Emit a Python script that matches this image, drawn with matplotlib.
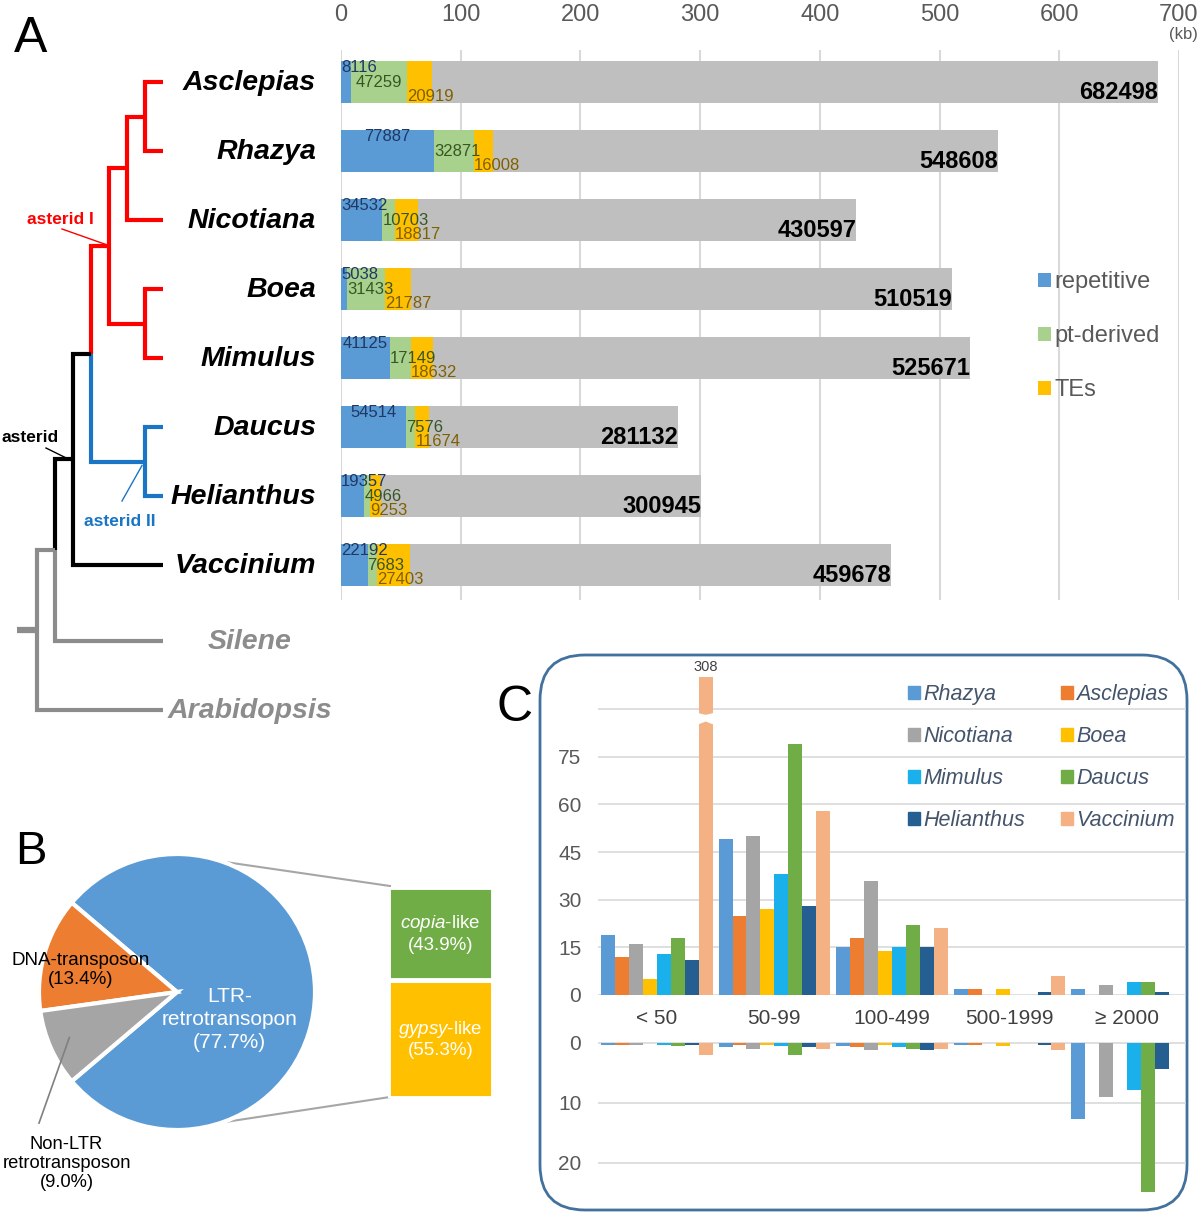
import matplotlib.pyplot as plt
from matplotlib.patches import FancyBboxPatch, Patch, Polygon
import numpy as np

W, H = 1200, 1212

plt.rcParams['font.family'] = ['Liberation Sans', 'DejaVu Sans']
plt.rcParams['mathtext.fontset'] = 'custom'
plt.rcParams['mathtext.rm'] = 'Liberation Sans'
plt.rcParams['mathtext.it'] = 'Liberation Sans:italic'

# ---------------- panel A data (bp) ----------------
species = ['Asclepias', 'Rhazya', 'Nicotiana', 'Boea', 'Mimulus',
           'Daucus', 'Helianthus', 'Vaccinium']
outgroups = ['Silene', 'Arabidopsis']
repetitive = [8116, 77887, 34532, 5038, 41125, 54514, 19357, 22192]
pt_derived = [47259, 32871, 10703, 31433, 17149, 7576, 4966, 7683]
tes = [20919, 16008, 18817, 21787, 18632, 11674, 9253, 27403]
genome = [682498, 548608, 430597, 510519, 525671, 281132, 300945, 459678]

# tree topology, tip rows and branch colours
tip_rows = {'Asclepias': 0, 'Rhazya': 1, 'Nicotiana': 2, 'Boea': 3, 'Mimulus': 4,
            'Daucus': 5, 'Helianthus': 6, 'Vaccinium': 7,
            'Silene': 8.1, 'Arabidopsis': 9.1}
clades = {
    'AR': ['Asclepias', 'Rhazya'],
    'ARN': ['AR', 'Nicotiana'],
    'BM': ['Boea', 'Mimulus'],
    'astI': ['ARN', 'BM'],
    'DH': ['Daucus', 'Helianthus'],
    'core': ['astI', 'DH'],
    'asterid': ['core', 'Vaccinium'],
    'SA': ['asterid', 'Silene'],
    'root': ['SA', 'Arabidopsis'],
}
RED, BLUE, BLACK, GREY = '#ff0000', '#1a75c4', '#000000', '#8c8c8c'
branch_colors = {
    'Asclepias': RED, 'Rhazya': RED, 'Nicotiana': RED, 'Boea': RED, 'Mimulus': RED,
    'AR': RED, 'ARN': RED, 'BM': RED, 'astI': RED,
    'Daucus': BLUE, 'Helianthus': BLUE, 'DH': BLUE,
    'Vaccinium': BLACK, 'core': BLACK, 'asterid': BLACK,
    'Silene': GREY, 'Arabidopsis': GREY, 'SA': GREY,
}

# ---------------- panel B data ----------------
pie_pct = [77.7, 13.4, 9.0]
pie_colors = ['#5b9bd5', '#ed7d31', '#a5a5a5']
ltr_pct = [55.3, 43.9]          # gypsy (bottom), copia (top)
ltr_names = ['gypsy', 'copia']

# ---------------- panel C data ----------------
size_bins = ['< 50', '50-99', '100-499', '500-1999', '≥ 2000']
c_species = ['Rhazya', 'Asclepias', 'Nicotiana', 'Boea',
             'Mimulus', 'Daucus', 'Helianthus', 'Vaccinium']
c_colors = ['#5b9bd5', '#ed7d31', '#a5a5a5', '#ffc000',
            '#1ab0ec', '#70ad47', '#255e91', '#f4b183']
rhazya_up = [19, 49, 15, 2, 2]
asclepias_up = [12, 25, 18, 2, 0]
nicotiana_up = [16, 50, 36, 0, 3]
boea_up = [5, 27, 14, 2, 0]
mimulus_up = [13, 38, 15, 0, 4]
daucus_up = [18, 79, 22, 0, 4]
helianthus_up = [11, 28, 15, 1, 1]
vaccinium_up = [308, 58, 21, 6, 0]
rhazya_dn = [0.3, 0.6, 0.5, 0.4, 12.6]
asclepias_dn = [0.3, 0.3, 0.6, 0.4, 0]
nicotiana_dn = [0.3, 1, 1.2, 0, 9]
boea_dn = [0, 0.3, 0.3, 0.5, 0]
mimulus_dn = [0.3, 0.5, 0.6, 0, 7.8]
daucus_dn = [0.5, 2, 1, 0, 24.8]
helianthus_dn = [0.3, 0.6, 1.1, 0.4, 4.3]
vaccinium_dn = [2, 1, 1, 1.1, 0]

upper = [rhazya_up, asclepias_up, nicotiana_up, boea_up,
         mimulus_up, daucus_up, helianthus_up, vaccinium_up]
lower = [rhazya_dn, asclepias_dn, nicotiana_dn, boea_dn,
         mimulus_dn, daucus_dn, helianthus_dn, vaccinium_dn]


def px_rect(x0, y0, x1, y1):
    return [x0 / W, 1 - y1 / H, (x1 - x0) / W, (y1 - y0) / H]


def row_px(r):
    return 82 + 69 * r


fig = plt.figure(figsize=(W / 100, H / 100), dpi=100)

# full-figure canvas in pixel coordinates
cv = fig.add_axes([0, 0, 1, 1])
cv.set_xlim(0, W)
cv.set_ylim(H, 0)
cv.axis('off')

# ---------------- tree ----------------
TIP_X, STEP = 163, 18
pos = {}


def place(name):
    if name not in clades:
        pos[name] = (TIP_X, row_px(tip_rows[name]))
    else:
        kids = [place(k) for k in clades[name]]
        pos[name] = (min(k[0] for k in kids) - STEP, (kids[0][1] + kids[-1][1]) / 2)
    return pos[name]


place('root')
for name, kids in clades.items():
    nx, ny = pos[name]
    for k in kids:
        kx, ky = pos[k]
        cv.plot([nx, nx, kx], [ny, ky, ky], color=branch_colors[k], lw=3,
                solid_joinstyle='miter', solid_capstyle='butt')
rx, ry = pos['root']
cv.plot([rx - 20, rx], [ry, ry], color=GREY, lw=4.5, solid_capstyle='butt')

for sp in species:
    cv.text(316, row_px(tip_rows[sp]) + 1, sp, ha='right', va='center',
            fontsize=20.5, fontweight='bold', fontstyle='italic')
for sp in outgroups:
    cv.text(250, row_px(tip_rows[sp]) + 1, sp, ha='center', va='center',
            fontsize=20.5, fontweight='bold', fontstyle='italic', color=GREY)

# clade labels with leader lines
ax_, ay_ = pos['astI']
cv.text(60, 219, 'asterid I', color=RED, fontsize=12.5, fontweight='bold', ha='center', va='center')
cv.plot([62, ax_ - 2], [229, ay_ - 1], color=RED, lw=1)
ax_, ay_ = pos['asterid']
cv.text(30, 437, 'asterid', color=BLACK, fontsize=12.5, fontweight='bold', ha='center', va='center')
cv.plot([46, ax_ - 2], [448, ay_ + 1], color=BLACK, lw=1)
ax_, ay_ = pos['DH']
cv.text(120, 521, 'asterid II', color=BLUE, fontsize=12.5, fontweight='bold', ha='center', va='center')
cv.plot([122, ax_ - 3], [501, ay_ + 4], color=BLUE, lw=1)

# panel letters
cv.text(31, 39, 'A', fontsize=36, ha='center', va='center')
cv.text(31, 852, 'B', fontsize=34, ha='center', va='center')
cv.text(515, 708, 'C', fontsize=36, ha='center', va='center')
cv.text(1183, 34, '(kb)', fontsize=12, color='#595959', ha='center', va='center')

# ---------------- panel A bars ----------------
axA = fig.add_axes(px_rect(341, 50, 1179, 600))
axA.set_facecolor('none')
rows = np.arange(len(species))
kb = lambda v: np.array(v) / 1000.0
rep, pt, te, tot = kb(repetitive), kb(pt_derived), kb(tes), kb(genome)
BH = 0.62
axA.barh(rows, tot, height=BH, color='#bfbfbf', zorder=2)
axA.barh(rows, rep, height=BH, color='#5b9bd5', zorder=3, label='repetitive')
axA.barh(rows, pt, left=rep, height=BH, color='#a9d18e', zorder=3, label='pt-derived')
axA.barh(rows, te, left=rep + pt, height=BH, color='#ffc000', zorder=3, label='TEs')

DIGIT_KB = 7.74
segs = [(repetitive, np.zeros_like(rep), rep, -0.21, '#1f3864'),
        (pt_derived, rep, pt, 0.0, '#375623'),
        (tes, rep + pt, te, 0.21, '#7f6000')]
for vals, start, width, dy, col in segs:
    for i, v in enumerate(vals):
        s = str(v)
        left = max(start[i], start[i] + width[i] / 2 - len(s) * DIGIT_KB / 2)
        axA.text(left, i + dy, s, ha='left', va='center', fontsize=12, color=col, zorder=4)
for i, v in enumerate(genome):
    axA.text(tot[i], i + 0.15, str(v), ha='right', va='center', fontsize=17,
             fontweight='bold', zorder=4)

axA.set_xlim(0, 700)
axA.set_ylim(7.507, -0.464)
axA.set_xticks(range(0, 701, 100))
axA.set_yticks([])
axA.xaxis.grid(True, color='#d9d9d9', lw=1.5, zorder=0)
axA.set_axisbelow(True)
axA.tick_params(top=True, labeltop=True, bottom=False, labelbottom=False,
                length=0, pad=17, labelsize=17, labelcolor='#595959')
for s in axA.spines.values():
    s.set_visible(False)
axA.legend(loc='upper left', bbox_to_anchor=(1038 / W, 1 - 271 / H),
           bbox_transform=fig.transFigure, frameon=False, fontsize=17,
           labelcolor='#595959', handlelength=0.55, handleheight=0.55,
           handletextpad=0.15, labelspacing=1.36, borderaxespad=0, borderpad=0)

# ---------------- panel B ----------------
axP = fig.add_axes(px_rect(39, 854, 315, 1130))
axP.pie(pie_pct, colors=pie_colors, startangle=-pie_pct[0] * 3.6 / 2 / (sum(pie_pct) / 100),
        counterclock=True, wedgeprops=dict(edgecolor='white', linewidth=3))
axP.set_xlim(-1, 1)
axP.set_ylim(-1, 1)
axP.set_aspect('equal')
axP.text(0.38, -0.2, 'LTR-\nretrotransopon\n(%.1f%%)' % pie_pct[0], color='white',
         fontsize=15, ha='center', va='center', linespacing=1.25)
axP.text(-0.70, 0.16, 'DNA-transposon\n(%.1f%%)' % pie_pct[1], fontsize=13.5,
         ha='center', va='center', linespacing=1.15, clip_on=False)
axP.text(-0.80, -1.246, 'Non-LTR\nretrotransposon\n(%.1f%%)' % pie_pct[2], fontsize=13.2,
         ha='center', va='center', linespacing=1.15, clip_on=False)
axP.plot([-1.0, -0.78], [-0.95, -0.33], color='#808080', lw=1.2, clip_on=False)

axS = fig.add_axes(px_rect(388, 887, 493, 1098))
axS.set_facecolor('none')
axS.bar(0, ltr_pct[0], width=1, color='#ffc000', edgecolor='white', lw=3.5)
axS.bar(0, ltr_pct[1], bottom=ltr_pct[0], width=1, color='#70ad47', edgecolor='white', lw=3.5)
axS.text(0, ltr_pct[0] / 2, '$\\mathit{%s}$-like\n(%.1f%%)' % (ltr_names[0], ltr_pct[0]),
         color='white', fontsize=13.5, ha='center', va='center', linespacing=1.2)
axS.text(0, ltr_pct[0] + ltr_pct[1] / 2, '$\\mathit{%s}$-like\n(%.1f%%)' % (ltr_names[1], ltr_pct[1]),
         color='white', fontsize=13.5, ha='center', va='center', linespacing=1.2)
axS.set_xlim(-0.5, 0.5)
axS.set_ylim(0, sum(ltr_pct))
axS.axis('off')

# zoom lines from pie to stacked bar
pcx, pcy, pr = 177, 992, 138
ang = np.deg2rad(71)
cv.plot([pcx + pr * np.cos(ang), 390], [pcy - pr * np.sin(ang), 886], color='#a6a6a6', lw=1.5)
cv.plot([pcx + pr * np.cos(ang), 390], [pcy + pr * np.sin(ang), 1097], color='#a6a6a6', lw=1.5)

# ---------------- panel C ----------------
cv.add_patch(FancyBboxPatch((540, 655), 647, 555, boxstyle='round,pad=0,rounding_size=45',
                            fill=False, ec='#41719c', lw=2))

CAP = 100
axT = fig.add_axes(px_rect(598, 671, 1186, 995))
axB = fig.add_axes(px_rect(598, 1040, 1186, 1199))
n = len(c_species)
bw = 0.95 / n
x = np.arange(len(size_bins))
handles = []
for i, (sp, col) in enumerate(zip(c_species, c_colors)):
    xs = x + (i - (n - 1) / 2) * bw
    up = np.array(upper[i], dtype=float)
    axT.bar(xs, np.minimum(up, CAP), width=bw, color=col, zorder=3)
    axB.bar(xs, lower[i], width=bw, color=col, zorder=3)
    for xx, v in zip(xs, up):
        if v > CAP:
            x0, x1 = xx - bw / 2 - 0.01, xx + bw / 2 + 0.01
            axT.add_patch(Polygon([(x0, 88.8), (xx, 88.2), (x1, 88.8), (x1, 85.1),
                                   (xx, 86.1), (x0, 85.1)], closed=True,
                                  fc='white', ec='none', zorder=4))
            axT.text(xx, CAP + 1, '%d' % v, ha='center', va='bottom', fontsize=10.5,
                     color='#404040', clip_on=False)
    handles.append(Patch(color=col, label=sp))

for a in (axT, axB):
    a.set_facecolor('none')
    a.set_xlim(-0.5, len(size_bins) - 0.5)
    a.yaxis.grid(True, color='#d9d9d9', lw=1.2, zorder=0)
    a.set_axisbelow(True)
    for s in a.spines.values():
        s.set_visible(False)
    a.tick_params(length=0, labelsize=15, labelcolor='#595959', pad=12)

axT.set_ylim(0, 102)
axT.set_yticks(range(0, 91, 15))
axT.set_yticklabels([str(v) for v in range(0, 76, 15)] + [''])
axT.set_xticks(x)
axT.set_xticklabels(size_bins, fontsize=15, color='#404040')
axT.tick_params(axis='x', pad=10)
axB.set_ylim(26, -0.5)
axB.set_yticks([0, 10, 20])
axB.set_xticks([])

order = list(range(0, n, 2)) + list(range(1, n, 2))
axT.legend([handles[k] for k in order], [c_species[k] for k in order], ncol=2,
           loc='upper left', bbox_to_anchor=(908 / W, 1 - 684 / H),
           bbox_transform=fig.transFigure, frameon=False,
           prop={'size': 15.5, 'style': 'italic'}, labelcolor='#44546a',
           handlelength=0.55, handleheight=0.55, handletextpad=0.15,
           labelspacing=0.98, columnspacing=1.68, borderaxespad=0, borderpad=0)

fig.savefig('out.png', dpi=100)
